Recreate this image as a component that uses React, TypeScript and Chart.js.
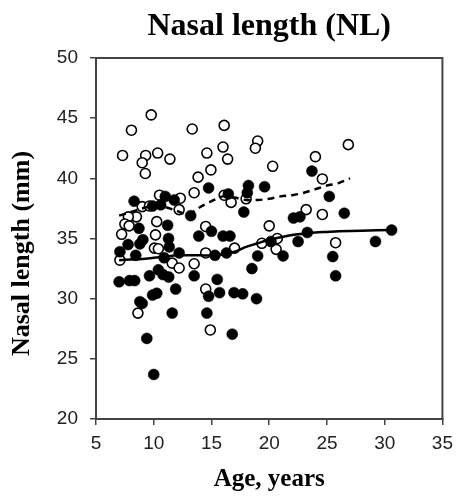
import React, { useEffect, useRef } from 'react';
import { Chart, registerables } from 'chart.js';
Chart.register(...registerables);

// Filled circles (age, NL)
const filledAge = [8.3, 11.0, 11.77, 9.9, 10.6, 13.2, 8.72, 11.2, 9.06, 11.28, 7.78, 8.8, 11.34, 7.07, 8.44, 10.9, 12.2, 13.9, 15.0, 14.75,
  7.0, 7.9, 8.35, 9.63, 10.4, 10.8, 11.3, 11.9, 13.5, 14.75, 9.9, 10.26, 9.0, 8.8, 11.6, 14.6, 9.4, 10.0,
  23.7, 16.46, 18.2, 18.1, 19.6, 17.8, 22.1, 22.66, 23.3, 22.5, 20.15, 21.2, 19.0, 16.0, 16.6, 16.3, 15.3,
  18.5, 15.5, 15.7, 16.95, 17.7, 18.9, 16.8, 25.2, 26.5, 30.6, 29.2, 25.5, 25.75];
const filledNL = [38.1, 38.5, 38.2, 37.7, 37.8, 36.9, 35.85, 36.1, 34.9, 35.0, 34.5, 34.55, 34.3, 33.9, 33.6, 33.4, 33.8, 35.2, 35.6, 39.2,
  31.4, 31.5, 31.5, 31.9, 32.4, 32.0, 31.8, 30.8, 31.9, 30.2, 30.3, 30.45, 29.6, 29.75, 28.8, 28.8, 26.7, 23.7,
  40.6, 38.7, 39.4, 38.8, 39.3, 37.2, 36.7, 36.8, 35.5, 34.75, 34.75, 33.55, 33.55, 35.2, 35.2, 33.8, 33.6,
  32.5, 31.6, 30.5, 30.5, 30.4, 30.0, 27.05, 38.5, 37.1, 35.7, 34.75, 33.5, 31.9];

// Open circles (age, NL)
const openAge = [9.78, 8.07, 13.33, 7.3, 9.3, 9.0, 10.34, 11.4, 9.27, 14.6, 14.95, 13.84, 13.5, 10.5, 12.3, 9.0, 9.63, 12.2, 8.5, 7.8,
  10.26, 7.5, 7.87, 7.22, 10.15, 10.06, 10.4, 14.5, 14.5, 7.07, 14.5, 8.63, 14.9,
  16.1, 16.0, 19.0, 18.8, 16.4, 20.3, 24.0, 24.6, 16.1, 16.7, 18.0, 23.2, 24.6, 20.0, 20.7, 19.36, 20.6, 17.0,
  26.85, 25.75, 11.6, 12.2, 13.5];
const openNL = [45.27, 44.0, 44.1, 41.9, 41.9, 41.3, 42.1, 41.6, 40.4, 42.1, 40.7, 40.1, 38.8, 38.6, 38.35, 37.65, 37.7, 37.4, 36.8, 36.8,
  36.4, 36.2, 36.05, 35.35, 35.3, 34.2, 34.15, 33.8, 36.0, 33.2, 30.8, 28.8, 27.4,
  44.4, 42.6, 43.1, 42.5, 41.6, 41.0, 41.8, 39.95, 38.6, 38.0, 38.3, 37.4, 37.0, 36.05, 35.0, 34.6, 34.1, 34.2,
  42.8, 34.65, 32.95, 32.55, 32.9];

// Smoothed trend (dashed, open-circle group)
const dashAge = [7, 8, 9, 10, 11, 12, 13, 14, 15, 16, 17, 18, 19, 20, 21, 22, 23, 24, 25, 26, 27];
const dashNL = [36.9, 37.2, 37.5, 37.7, 37.6, 37.3, 37.0, 37.6, 38.1, 38.5, 38.4, 38.2, 38.2, 38.3, 38.5, 38.6, 38.8, 39.1, 39.4, 39.6, 40.0];

// Smoothed trend (solid, filled-circle group)
const solidAge = [7, 8, 9, 10, 11, 12, 13, 14, 15, 16, 17, 18, 19, 20, 21, 22, 23, 24, 25, 26, 28, 30.6];
const solidNL = [33.2, 33.25, 33.3, 33.4, 33.5, 33.6, 33.6, 33.6, 33.6, 33.7, 33.9, 34.3, 34.6, 34.9, 35.1, 35.3, 35.4, 35.5, 35.55, 35.6, 35.65, 35.7];

const xTicks = [5, 10, 15, 20, 25, 30, 35];
const yTicks = [20, 25, 30, 35, 40, 45, 50];
const yTitle = 'Nasal length (mm)';

const zip = (a: number[], b: number[]) => a.map((x, i) => ({ x, y: b[i] }));
const serif = "'Liberation Serif', 'Times New Roman', serif";
const sans = "'Liberation Sans', Arial, sans-serif";

const framePlugin = {
  id: 'frame',
  afterDraw(chart: any) {
    const { ctx, chartArea } = chart;
    ctx.save();
    ctx.strokeStyle = '#444';
    ctx.lineWidth = 2;
    ctx.strokeRect(chartArea.left, chartArea.top, chartArea.right - chartArea.left, chartArea.bottom - chartArea.top);
    // vertical axis title
    ctx.fillStyle = '#000';
    ctx.font = `bold 26px ${serif}`;
    ctx.textAlign = 'center';
    ctx.textBaseline = 'middle';
    ctx.translate(22, (chartArea.top + chartArea.bottom) / 2 + 15);
    ctx.rotate(-Math.PI / 2);
    ctx.fillText(yTitle, 0, 0);
    ctx.restore();
  },
};

export default function App() {
  const ref = useRef<HTMLCanvasElement>(null);
  useEffect(() => {
    if (!ref.current) return;
    const chart = new Chart(ref.current, {
      type: 'scatter',
      data: {
        datasets: [
          {
            label: 'trend2', data: zip(dashAge, dashNL), showLine: true, borderColor: '#000', borderWidth: 2.5,
            borderDash: [7, 5], pointRadius: 0, fill: false, tension: 0.3,
          },
          {
            label: 'trend1', data: zip(solidAge, solidNL), showLine: true, borderColor: '#000', borderWidth: 2.5,
            pointRadius: 0, fill: false, tension: 0.3,
          },
          {
            label: 'filled', data: zip(filledAge, filledNL), pointRadius: 5.5, pointBackgroundColor: '#000',
            pointBorderColor: '#000', pointBorderWidth: 0.5, showLine: false,
          },
          {
            label: 'open', data: zip(openAge, openNL), pointRadius: 5, pointBackgroundColor: '#fff',
            pointBorderColor: '#000', pointBorderWidth: 1.6, showLine: false,
          },
        ],
      },
      options: {
        animation: false,
        responsive: true,
        maintainAspectRatio: false,
        layout: { padding: { left: 0, right: 13, top: 0, bottom: 0 } },
        plugins: {
          legend: { display: false },
          tooltip: { enabled: false },
          title: {
            display: true,
            text: 'Nasal length (NL)',
            fullSize: false,
            color: '#000',
            font: { family: serif, size: 32, weight: 'bold', lineHeight: 1.1 },
            padding: { top: 9, bottom: 13.8 },
          },
        },
        scales: {
          x: {
            type: 'linear', min: 5, max: 35,
            afterBuildTicks: (s: any) => { s.ticks = xTicks.map((v) => ({ value: v })); },
            afterFit: (s: any) => { s.height = 80; },
            grid: { display: true, drawOnChartArea: false, drawTicks: true, tickLength: 6, color: '#444', lineWidth: 1.5 },
            border: { display: true, color: '#444', width: 2 },
            ticks: { color: '#222', font: { family: sans, size: 19 }, padding: 7 },
            title: {
              display: true, text: 'Age, years', color: '#000',
              font: { family: serif, size: 25, weight: 'bold' }, padding: { top: 0, bottom: 4 },
            },
          },
          y: {
            type: 'linear', min: 20, max: 50,
            afterBuildTicks: (s: any) => { s.ticks = yTicks.map((v) => ({ value: v })); },
            afterFit: (s: any) => { s.width = 96; },
            grid: { display: true, drawOnChartArea: false, drawTicks: true, tickLength: 6, color: '#444', lineWidth: 1.5 },
            border: { display: true, color: '#444', width: 2 },
            ticks: { color: '#222', font: { family: sans, size: 19 }, padding: 12 },
            title: { display: false },
          },
        },
      },
      plugins: [framePlugin],
    } as any);
    return () => chart.destroy();
  }, []);
  return (
    <div style={{ position: 'fixed', left: 0, top: 0, width: 460, height: 499, background: '#fff' }}>
      <canvas ref={ref} />
    </div>
  );
}
